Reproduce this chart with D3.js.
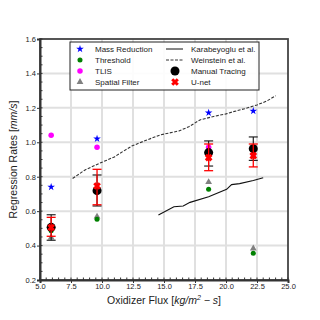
<!DOCTYPE html>
<html>
<head>
<meta charset="utf-8">
<script src="https://cdn.jsdelivr.net/npm/d3@7"></script>
<style>
body { margin: 0; background: #fff; }
text { font-family: "Liberation Sans", Arial, sans-serif; }
</style>
</head>
<body>
<div id="chart"></div>
<script>
var wd = 320, ht = 320;
var margin = { top: 39, right: 32, bottom: 40, left: 40 };

// data
var flux = [5.9, 9.6, 18.6, 22.2];
var massReduction = [0.74, 1.02, 1.172, 1.182];
var threshold = [0.486, 0.553, 0.727, 0.355];
var tlis = [1.041, 0.971, 0.971, 0.93];
var spatialFilter = [0.446, 0.568, 0.769, 0.383];
var manual = [0.506, 0.719, 0.94, 0.963];
var manualLo = [0.431, 0.63, 0.862, 0.895];
var manualHi = [0.579, 0.81, 1.008, 1.031];
var unet = [0.505, 0.746, 0.911, 0.922];
var unetLo = [0.454, 0.637, 0.835, 0.857];
var unetHi = [0.564, 0.843, 0.99, 0.99];

var karaX = [14.55, 15.8, 16.55, 17.1, 18.6, 20.05, 20.45, 21.1, 22.2, 23.0];
var karaY = [0.578, 0.626, 0.63, 0.651, 0.684, 0.727, 0.754, 0.76, 0.778, 0.794];
var weinX = [7.63, 8.6, 9.8, 11.0, 11.45, 12.4, 13.5, 14.7, 16.2, 17.0, 17.9, 19.0, 20.0, 20.6, 21.5, 22.5, 23.3, 24.0];
var weinY = [0.79, 0.838, 0.878, 0.915, 0.936, 0.978, 1.01, 1.043, 1.066, 1.09, 1.13, 1.15, 1.165, 1.178, 1.195, 1.217, 1.24, 1.27];

var xTicks = [5, 7.5, 10, 12.5, 15, 17.5, 20, 22.5, 25];
var yTicks = [0.2, 0.4, 0.6, 0.8, 1.0, 1.2, 1.4, 1.6];

var svg = d3.select("#chart").append("svg").attr("width", wd).attr("height", ht);

var xScale = d3.scaleLinear().domain([5, 25]).range([margin.left, wd - margin.right]);
var yScale = d3.scaleLinear().domain([0.2, 1.6]).range([ht - margin.bottom, margin.top]);
var x0 = margin.left, x1 = wd - margin.right, y0 = ht - margin.bottom, y1 = margin.top;

// grid
svg.append("g").selectAll("line").data(xTicks.slice(1, -1)).enter().append("line")
  .attr("x1", function(d){ return xScale(d); }).attr("x2", function(d){ return xScale(d); })
  .attr("y1", y0).attr("y2", y1).attr("stroke", "#e0e0e0").attr("stroke-width", 2);
svg.append("g").selectAll("line").data(yTicks.slice(1, -1)).enter().append("line")
  .attr("y1", function(d){ return yScale(d); }).attr("y2", function(d){ return yScale(d); })
  .attr("x1", x0).attr("x2", x1).attr("stroke", "#e0e0e0").attr("stroke-width", 2);

// frame
svg.append("rect").attr("x", x0).attr("y", y1).attr("width", x1 - x0).attr("height", y0 - y1)
  .attr("fill", "none").attr("stroke", "#444").attr("stroke-width", 1.8);

// axes
var xMinor = d3.range(5, 25.01, 0.5);
var yMinor = d3.range(0.2, 1.601, 0.05);
var xAxis = d3.axisBottom(xScale).tickValues(xTicks).tickFormat(d3.format(".1f")).tickSize(3).tickPadding(1);
var yAxis = d3.axisLeft(yScale).tickValues(yTicks).tickFormat(d3.format(".1f")).tickSize(3).tickPadding(1);
var gx = svg.append("g").attr("transform", "translate(0," + y0 + ")").call(xAxis);
var gy = svg.append("g").attr("transform", "translate(" + x0 + ",0)").call(yAxis);
[gx, gy].forEach(function(g){
  g.select(".domain").attr("stroke", "#333").attr("stroke-width", 2);
  g.selectAll(".tick line").attr("stroke", "#333");
  g.selectAll(".tick text").style("font-size", "7.5px").attr("fill", "#222");
});
svg.append("g").selectAll("line").data(xMinor).enter().append("line")
  .attr("x1", function(d){ return xScale(d); }).attr("x2", function(d){ return xScale(d); })
  .attr("y1", y0).attr("y2", y0 - 2.5).attr("stroke", "#333");
svg.append("g").selectAll("line").data(yMinor).enter().append("line")
  .attr("y1", function(d){ return yScale(d); }).attr("y2", function(d){ return yScale(d); })
  .attr("x1", x0).attr("x2", x0 + 2.5).attr("stroke", "#333");

// reference lines
var line = d3.line().x(function(d){ return xScale(d[0]); }).y(function(d){ return yScale(d[1]); });
svg.append("path").datum(d3.zip(karaX, karaY)).attr("d", line)
  .attr("fill", "none").attr("stroke", "#111").attr("stroke-width", 1.1);
svg.append("path").datum(d3.zip(weinX, weinY)).attr("d", line)
  .attr("fill", "none").attr("stroke", "#333").attr("stroke-width", 1.1).attr("stroke-dasharray", "3,1.5");

function markers(vals, type, size, color) {
  svg.append("g").selectAll("path").data(d3.zip(flux, vals)).enter().append("path")
    .attr("d", d3.symbol().type(type).size(size))
    .attr("transform", function(d){ return "translate(" + xScale(d[0]) + "," + yScale(d[1]) + ")"; })
    .attr("fill", color);
}

function crosses(vals, color) {
  svg.append("g").selectAll("path").data(d3.zip(flux, vals)).enter().append("path")
    .attr("d", d3.symbol().type(d3.symbolX).size(22))
    .attr("transform", function(d){ return "translate(" + xScale(d[0]) + "," + yScale(d[1]) + ")"; })
    .attr("fill", "none").attr("stroke", color).attr("stroke-width", 3);
}

function errbars(lo, hi, color, w) {
  var g = svg.append("g").attr("stroke", color).attr("stroke-width", w);
  var dat = d3.zip(flux, lo, hi);
  g.selectAll(".v").data(dat).enter().append("line")
    .attr("x1", function(d){ return xScale(d[0]); }).attr("x2", function(d){ return xScale(d[0]); })
    .attr("y1", function(d){ return yScale(d[1]); }).attr("y2", function(d){ return yScale(d[2]); });
  [1, 2].forEach(function(k){
    g.selectAll(".c" + k).data(dat).enter().append("line")
      .attr("x1", function(d){ return xScale(d[0]) - 4.5; }).attr("x2", function(d){ return xScale(d[0]) + 4.5; })
      .attr("y1", function(d){ return yScale(d[k]); }).attr("y2", function(d){ return yScale(d[k]); });
  });
}

markers(massReduction, d3.symbolStar, 18, "#0000ff");
markers(tlis, d3.symbolCircle, 24, "#ff00ff");
markers(spatialFilter, d3.symbolTriangle, 20, "#808080");
markers(threshold, d3.symbolCircle, 20, "#008000");
errbars(manualLo, manualHi, "#111", 1.1);
markers(manual, d3.symbolCircle, 64, "#000");
errbars(unetLo, unetHi, "#ff0000", 1.3);
crosses(unet, "#ff0000");

// legend
var lg = svg.append("g");
lg.append("rect").attr("x", 70).attr("y", 42).attr("width", 189).attr("height", 48)
  .attr("fill", "#fff").attr("fill-opacity", 0.9).attr("stroke", "#222").attr("stroke-width", 1);
var rowsY = [49, 60, 71, 82];
var left = [
  ["Mass Reduction", d3.symbolStar, 18, "#0000ff"],
  ["Threshold", d3.symbolCircle, 20, "#008000"],
  ["TLIS", d3.symbolCircle, 24, "#ff00ff"],
  ["Spatial Filter", d3.symbolTriangle, 20, "#808080"]
];
left.forEach(function(r, i){
  lg.append("path").attr("d", d3.symbol().type(r[1]).size(r[2]))
    .attr("transform", "translate(80," + rowsY[i] + ")").attr("fill", r[3]);
  lg.append("text").attr("x", 95).attr("y", rowsY[i] + 3).style("font-size", "8px").attr("fill", "#222").text(r[0]);
});
lg.append("line").attr("x1", 166).attr("x2", 183).attr("y1", rowsY[0]).attr("y2", rowsY[0]).attr("stroke", "#111");
lg.append("line").attr("x1", 166).attr("x2", 183).attr("y1", rowsY[1]).attr("y2", rowsY[1])
  .attr("stroke", "#333").attr("stroke-dasharray", "3,1.5");
lg.append("path").attr("d", d3.symbol().type(d3.symbolCircle).size(64)).attr("transform", "translate(175," + rowsY[2] + ")").attr("fill", "#000");
lg.append("path").attr("d", d3.symbol().type(d3.symbolX).size(22)).attr("transform", "translate(175," + rowsY[3] + ")")
  .attr("fill", "none").attr("stroke", "#ff0000").attr("stroke-width", 3);
["Karabeyoglu et al.", "Weinstein et al.", "Manual Tracing", "U-net"].forEach(function(t, i){
  lg.append("text").attr("x", 191).attr("y", rowsY[i] + 3).style("font-size", "8px").attr("fill", "#222").text(t);
});

// axis titles
var xt = svg.append("text").attr("x", (x0 + x1) / 2).attr("y", 304).attr("text-anchor", "middle")
  .style("font-size", "10.5px").attr("fill", "#222");
xt.append("tspan").text("Oxidizer Flux [");
xt.append("tspan").style("font-style", "italic").text("kg/m");
xt.append("tspan").attr("dy", -4).style("font-size", "7px").style("font-style", "italic").text("2");
xt.append("tspan").attr("dy", 4).style("font-style", "italic").text(" \u2212 s");
xt.append("tspan").text("]");

var yt = svg.append("text").attr("transform", "translate(17," + ((y0 + y1) / 2) + ") rotate(-90)")
  .attr("text-anchor", "middle").style("font-size", "10.5px").attr("fill", "#222");
yt.append("tspan").text("Regression Rates [");
yt.append("tspan").style("font-style", "italic").text("mm/s");
yt.append("tspan").text("]");
</script>
</body>
</html>
